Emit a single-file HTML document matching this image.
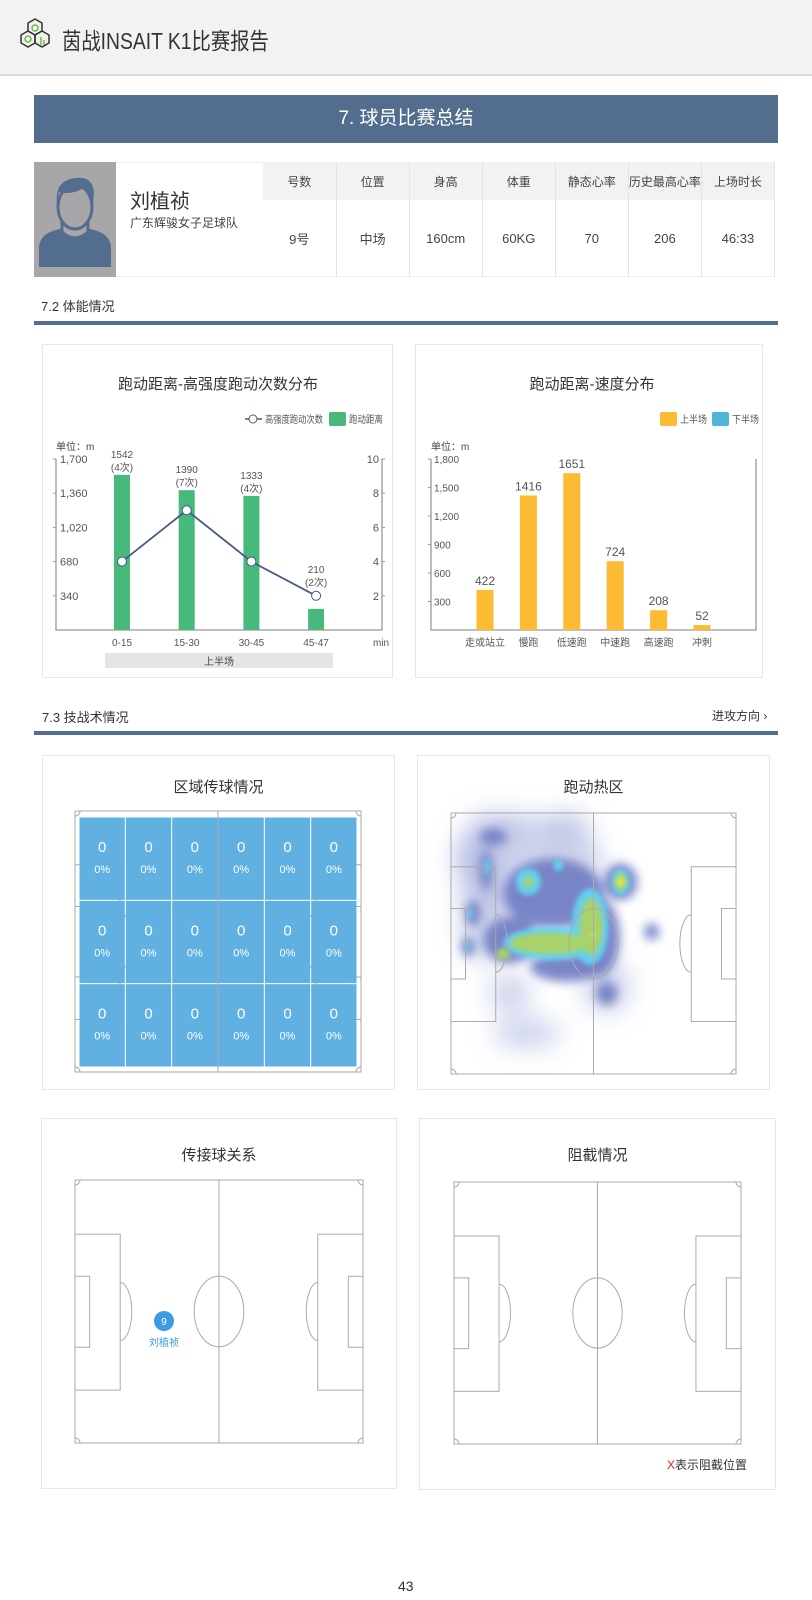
<!DOCTYPE html>
<html><head><meta charset="utf-8">
<style>
*{margin:0;padding:0;box-sizing:border-box}
body{width:812px;height:1600px;background:#fff;position:relative;overflow:hidden;font-family:"Liberation Sans","Noto Sans CJK SC",sans-serif;color:#333}
.abs{position:absolute}
.card{position:absolute;border:1px solid #e8e8e8;background:#fff}
.ctitle{position:absolute;left:0;right:0;text-align:center;font-size:15px;color:#333}
.tbl{position:absolute;left:263px;top:162px;width:512px;height:115px;border-collapse:collapse;font-size:12px;color:#444;table-layout:fixed}
.tbl td{border-right:1px solid #e3e3e3;text-align:center}
.tbl tr.h td{background:#f2f2f2;height:38px}
.tbl tr.v td{height:77px;font-size:13px}
svg text{font-family:"Liberation Sans","Noto Sans CJK SC",sans-serif}
</style></head><body>

<div class="abs" style="left:0;top:0;width:812px;height:76px;background:#f2f2f2;border-bottom:2px solid #dcdcdc"></div>
<svg class="abs" style="left:19px;top:18px" width="32" height="40" viewBox="0 0 32 40">
<g fill="none" stroke="#333" stroke-width="1.5"><polygon points="16,1 23,5 23,13 16,17 9,13 9,5"/><polygon points="9,13 16,17 16,25 9,29 2,25 2,17"/><polygon points="23,13 30,17 30,25 23,29 16,25 16,17"/></g>
<g fill="none" stroke="#6cbd45" stroke-width="1.5"><circle cx="16" cy="10" r="3"/><circle cx="9" cy="21" r="3"/><line x1="22" y1="19" x2="22" y2="27"/><line x1="25" y1="22" x2="25" y2="27"/></g>
</svg>
<div class="abs" style="left:62px;top:22px;font-size:23px;color:#333;transform:scaleX(0.84);transform-origin:left top;white-space:nowrap">茵战INSAIT K1比赛报告</div>

<div class="abs" style="left:34px;top:95px;width:744px;height:48px;background:#536d8e;color:#fff;font-size:19px;text-align:center;line-height:48px">7. 球员比赛总结</div>

<div class="abs" style="left:34px;top:162px;width:741px;height:115px;border:1px solid #eee"></div>
<svg class="abs" style="left:34px;top:162px" width="82" height="115" viewBox="0 0 82 115">
<rect width="82" height="115" fill="#a8a6a8"/>
<path d="M5,105 L5,85 Q6,72 22,68 L30,66 L52,66 L60,68 Q76,72 77,85 L77,105 Z" fill="#536d8e"/>
<path d="M28,60 L28,70 Q41,82 54,70 L54,60 Z" fill="#a8a6a8" stroke="#536d8e" stroke-width="3"/>
<ellipse cx="41" cy="45" rx="17" ry="22" fill="#a8a6a8" stroke="#536d8e" stroke-width="3"/>
<path d="M23,42 Q20,18 42,16 Q58,14 60,30 L59,42 Q55,28 48,27 Q36,33 25,30 Z" fill="#536d8e"/>
</svg>
<div class="abs" style="left:130px;top:185px;font-size:20px;color:#333">刘植祯</div>
<div class="abs" style="left:130px;top:214px;font-size:12px;color:#444">广东辉骏女子足球队</div>
<table class="tbl">
<tr class="h"><td>号数</td><td>位置</td><td>身高</td><td>体重</td><td>静态心率</td><td>历史最高心率</td><td>上场时长</td></tr>
<tr class="v"><td>9号</td><td>中场</td><td>160cm</td><td>60KG</td><td>70</td><td>206</td><td>46:33</td></tr>
</table>

<div class="abs" style="left:41px;top:296px;font-size:13px;color:#333">7.2 体能情况</div>
<div class="abs" style="left:34px;top:321px;width:744px;height:4px;background:#536d8e"></div>

<div class="card" style="left:42px;top:344px;width:351px;height:334px"></div>
<div class="card" style="left:415px;top:344px;width:348px;height:334px"></div>

<svg class="abs" id="c1" style="left:0;top:0" width="812" height="700"></svg>

<div class="abs" style="left:42px;top:707px;font-size:13px;color:#333">7.3 技战术情况</div>
<div class="abs" style="left:712px;top:707px;font-size:12px;color:#333">进攻方向 ›</div>
<div class="abs" style="left:34px;top:731px;width:744px;height:4px;background:#536d8e"></div>

<div class="card" style="left:42px;top:755px;width:353px;height:335px"><div class="ctitle" style="top:20px">区域传球情况</div></div>
<div class="card" style="left:417px;top:755px;width:353px;height:335px"><div class="ctitle" style="top:20px">跑动热区</div></div>
<div class="card" style="left:41px;top:1118px;width:356px;height:371px"><div class="ctitle" style="top:25px">传接球关系</div></div>
<div class="card" style="left:419px;top:1118px;width:357px;height:372px"><div class="ctitle" style="top:25px">阻截情况</div></div>

<svg class="abs" id="fields" style="left:0;top:0" width="812" height="1600">
<defs>
<filter id="blur1" x="-50%" y="-50%" width="200%" height="200%"><feGaussianBlur stdDeviation="12"/></filter>
<filter id="blur2" x="-50%" y="-50%" width="200%" height="200%"><feGaussianBlur stdDeviation="5"/></filter>
<filter id="blur3" x="-50%" y="-50%" width="200%" height="200%"><feGaussianBlur stdDeviation="2.5"/></filter>
</defs>
</svg>

<div class="abs" style="left:667px;top:1456px;font-size:12px;color:#333"><span style="color:#e02020">X</span>表示阻截位置</div>
<div class="abs" style="left:398px;top:1578px;font-size:14px;color:#333">43</div>

<script>
// ---- chart 1 data ----
const c1Categories = ['0-15','15-30','30-45','45-47'];
const c1Distances = [1542,1390,1333,210];
const c1Counts = [4,7,4,2];
const c1LeftTicks = [340,680,1020,1360,1700];
const c1RightTicks = [2,4,6,8,10];
// ---- chart 2 data ----
const c2Categories = ['走或站立','慢跑','低速跑','中速跑','高速跑','冲刺'];
const c2Values = [422,1416,1651,724,208,52];
const c2Ticks = [300,600,900,1200,1500,1800];
// ---- zone pass data ----
const zoneCounts = [[0,0,0,0,0,0],[0,0,0,0,0,0],[0,0,0,0,0,0]];
const zonePct = [['0%','0%','0%','0%','0%','0%'],['0%','0%','0%','0%','0%','0%'],['0%','0%','0%','0%','0%','0%']];

const NS='http://www.w3.org/2000/svg';
function mk(parent,tag,attrs,text){const e=document.createElementNS(NS,tag);for(const k in attrs)e.setAttribute(k,attrs[k]);if(text!==undefined)e.textContent=text;parent.appendChild(e);return e;}

// ===== Chart 1 =====
(function(){
const s=document.getElementById('c1');
const x0=56,x1=382,yTop=459,yBot=630;
const yL=v=>yBot-(v/1700)*(yBot-yTop);
const yR=v=>yBot-(v/10)*(yBot-yTop);
const xc=i=>122+i*64.7;
let t=mk(s,'text',{x:218,y:389,'text-anchor':'middle','font-size':15,fill:'#333'},'跑动距离-高强度跑动次数分布');

let lg=mk(s,'g',{});

mk(lg,'line',{x1:245,y1:419,x2:262,y2:419,stroke:'#4a5a80','stroke-width':1.5});
mk(lg,'circle',{cx:253,cy:419,r:4,fill:'#fff',stroke:'#4a5a80'});
mk(lg,'text',{x:265,y:423,'font-size':10,fill:'#555',textLength:58,lengthAdjust:'spacingAndGlyphs'},'高强度跑动次数');
let lg2=mk(s,'g',{});

mk(lg2,'rect',{x:329,y:412,width:17,height:14,rx:2,fill:'#47b97b'});
mk(lg2,'text',{x:349,y:423,'font-size':10,fill:'#555',textLength:34,lengthAdjust:'spacingAndGlyphs'},'跑动距离');
t=mk(s,'text',{x:56,y:450,'font-size':10,fill:'#444'},'单位：m');

let ax=mk(s,'path',{d:`M${x0},${yTop}V${yBot}H${x1}V${yTop}`,fill:'none',stroke:'#999','stroke-width':1.3});

c1LeftTicks.forEach(v=>{const y=yL(v);mk(s,'line',{x1:x0-3,y1:y,x2:x0,y2:y,stroke:'#999'});
 const tt=mk(s,'text',{x:x0+4,y:y+4,'font-size':11,fill:'#555'},v.toLocaleString('en-US'));
 });
c1RightTicks.forEach(v=>{const y=yR(v);mk(s,'line',{x1:x1,y1:y,x2:x1+3,y2:y,stroke:'#999'});
 const tt=mk(s,'text',{x:x1-3,y:y+4,'font-size':11,fill:'#555','text-anchor':'end'},v);
 });
let b=mk(s,'rect',{x:105,y:653,width:228,height:15,fill:'#e4e6e5'});

t=mk(s,'text',{x:219,y:665,'text-anchor':'middle','font-size':10,fill:'#444'},'上半场');

t=mk(s,'text',{x:373,y:646,'font-size':10,fill:'#555'},'min');

c1Categories.forEach((c,i)=>{
 const r=mk(s,'rect',{x:xc(i)-8,y:yL(c1Distances[i]),width:16,height:yBot-yL(c1Distances[i]),fill:'#47b97b'});
 
 const tl=mk(s,'text',{x:xc(i),y:646,'text-anchor':'middle','font-size':10,fill:'#555'},c);
 
});
let pts=c1Counts.map((v,i)=>`${xc(i)},${yR(v)}`).join(' ');
let pl=mk(s,'polyline',{points:pts,fill:'none',stroke:'#4a5a80','stroke-width':1.8});

c1Counts.forEach((v,i)=>{
 const p=mk(s,'circle',{cx:xc(i),cy:yR(v),r:4.5,fill:'#fff',stroke:'#4a5a80','stroke-width':1});
 
 const top=Math.min(yL(c1Distances[i]),yR(v)-6);
 const a=mk(s,'text',{x:xc(i),y:top-17,'text-anchor':'middle','font-size':10,fill:'#555'},c1Distances[i]);
 
 const a2=mk(s,'text',{x:xc(i),y:top-4,'text-anchor':'middle','font-size':10,fill:'#555'},'('+v+'次)');
 
});

// ===== Chart 2 =====
const X0=431,X1=756;
const y2=v=>yBot-(v/1800)*(yBot-yTop);
const xc2=i=>485+i*43.4;
t=mk(s,'text',{x:592,y:389,'text-anchor':'middle','font-size':15,fill:'#333'},'跑动距离-速度分布');

let l3=mk(s,'g',{});
mk(l3,'rect',{x:660,y:412,width:17,height:14,rx:2,fill:'#fbbb33'});
mk(l3,'text',{x:680,y:423,'font-size':10,fill:'#555',textLength:27,lengthAdjust:'spacingAndGlyphs'},'上半场');
let l4=mk(s,'g',{});
mk(l4,'rect',{x:712,y:412,width:17,height:14,rx:2,fill:'#4fb5d8'});
mk(l4,'text',{x:732,y:423,'font-size':10,fill:'#555',textLength:27,lengthAdjust:'spacingAndGlyphs'},'下半场');
t=mk(s,'text',{x:431,y:450,'font-size':10,fill:'#444'},'单位：m');

ax=mk(s,'path',{d:`M${X0},${yTop}V${yBot}H${X1}V${yTop}`,fill:'none',stroke:'#999','stroke-width':1.3});

c2Ticks.forEach(v=>{const y=y2(v);mk(s,'line',{x1:X0-3,y1:y,x2:X0,y2:y,stroke:'#999'});
 const tt=mk(s,'text',{x:X0+3,y:y+4,'font-size':10,fill:'#555'},v.toLocaleString('en-US'));
 });
c2Categories.forEach((c,i)=>{
 const r=mk(s,'rect',{x:xc2(i)-8.5,y:y2(c2Values[i]),width:17,height:yBot-y2(c2Values[i]),fill:'#fbbb33'});
 
 const a=mk(s,'text',{x:xc2(i),y:y2(c2Values[i])-5,'text-anchor':'middle','font-size':12,fill:'#555'},c2Values[i]);
 
 const tl=mk(s,'text',{x:xc2(i),y:646,'text-anchor':'middle','font-size':10,fill:'#555'},c);
 
});
})();

// ===== Pitches =====
(function(){
const s=document.getElementById('fields');
function pitch(x,y,w,h,name){
 const g=mk(s,'g',{fill:'none',stroke:'#aaa','stroke-width':1});
 
 mk(g,'rect',{x:x,y:y,width:w,height:h});
 mk(g,'line',{x1:x+w/2,y1:y,x2:x+w/2,y2:y+h});
 mk(g,'ellipse',{cx:x+w/2,cy:y+h/2,rx:w*0.086,ry:h*0.134});
 const pbw=w*0.157,pby=h*0.206,pbh=h*0.593,gbw=w*0.051,gby=h*0.366,gbh=h*0.27;
 mk(g,'rect',{x:x,y:y+pby,width:pbw,height:pbh});
 mk(g,'rect',{x:x+w-pbw,y:y+pby,width:pbw,height:pbh});
 mk(g,'rect',{x:x,y:y+gby,width:gbw,height:gbh});
 mk(g,'rect',{x:x+w-gbw,y:y+gby,width:gbw,height:gbh});
 const ar=h*0.11;
 mk(g,'path',{d:`M${x+pbw},${y+h/2-ar} A${w*0.04},${ar} 0 0 1 ${x+pbw},${y+h/2+ar}`});
 mk(g,'path',{d:`M${x+w-pbw},${y+h/2-ar} A${w*0.04},${ar} 0 0 0 ${x+w-pbw},${y+h/2+ar}`});
 const c=5;
 mk(g,'path',{d:`M${x},${y+c} A${c},${c} 0 0 0 ${x+c},${y}`});
 mk(g,'path',{d:`M${x+w-c},${y} A${c},${c} 0 0 0 ${x+w},${y+c}`});
 mk(g,'path',{d:`M${x},${y+h-c} A${c},${c} 0 0 1 ${x+c},${y+h}`});
 mk(g,'path',{d:`M${x+w-c},${y+h} A${c},${c} 0 0 1 ${x+w},${y+h-c}`});
}
pitch(75,811,286,261,'zone-pass-pitch');
const zx0=79,zy0=817,zw=(357-79)/6,zh=(1067-817)/3;
zoneCounts.forEach((row,r)=>row.forEach((v,c)=>{
 const rc=mk(s,'rect',{x:zx0+c*zw+0.5,y:zy0+r*zh+0.5,width:zw-1,height:zh-1,fill:'#5aaee0','fill-opacity':0.96});
 
 const t1=mk(s,'text',{x:zx0+c*zw+zw/2,y:zy0+r*zh+35,'text-anchor':'middle','font-size':15,fill:'#fff'},v);
 
 const t2=mk(s,'text',{x:zx0+c*zw+zw/2,y:zy0+r*zh+56,'text-anchor':'middle','font-size':11,fill:'#fff'},zonePct[r][c]);
 
}));
const hx=451,hy=813,hw=285,hh=261;
const mx=zx=>hx+(zx-123)/855*hw, my=zy=>hy+(zy-398)/785*hh;
const hm=mk(s,'g',{});
const layers=[
 ['#a6aedc',0.55,'blur1',[[260,440,90,45],[470,440,70,45],[200,520,70,70],[360,560,220,150],[300,940,60,60],[350,1060,100,45],[590,920,70,80],[220,700,70,150]]],
 ['#7480c4',0.95,'blur2',[[430,640,150,105],[300,780,80,70],[560,770,70,120],[470,860,110,45],[632,605,50,55],[228,570,18,60],[190,700,22,40],[175,800,20,30],[725,755,22,25],[590,940,32,35],[250,470,40,25]]],
 ['#62d3f2',0.95,'blur3',[[430,790,150,50],[540,740,55,115],[355,605,38,40],[632,605,28,40],[445,555,14,18],[230,560,8,24],[180,700,8,12],[172,800,8,10]]],
 ['#a8d26a',1,'blur3',[[420,790,120,32],[543,740,35,85],[280,822,20,18],[355,605,16,16],[632,605,18,26]]],
 ['#f4ee3c',1,'blur3',[[632,605,9,13],[548,765,5,6]]]
];
layers.forEach(([col,op,f,bl])=>{
 const g=mk(hm,'g',{fill:col,'fill-opacity':op,filter:`url(#${f})`});
 bl.forEach(b=>mk(g,'ellipse',{cx:mx(b[0]),cy:my(b[1]),rx:b[2]/3,ry:b[3]/3}));
});
pitch(451,813,285,261,'heatmap-pitch');
pitch(75,1180,288,263,'pass-network-pitch');
const pc=mk(s,'circle',{cx:164,cy:1321,r:10,fill:'#3d9be0'});

let t=mk(s,'text',{x:164,y:1325,'text-anchor':'middle','font-size':10,fill:'#fff'},'9');

t=mk(s,'text',{x:164,y:1346,'text-anchor':'middle','font-size':10,fill:'#3d9be0'},'刘植祯');

pitch(454,1182,287,262,'interception-pitch');
})();
</script>
</body></html>
